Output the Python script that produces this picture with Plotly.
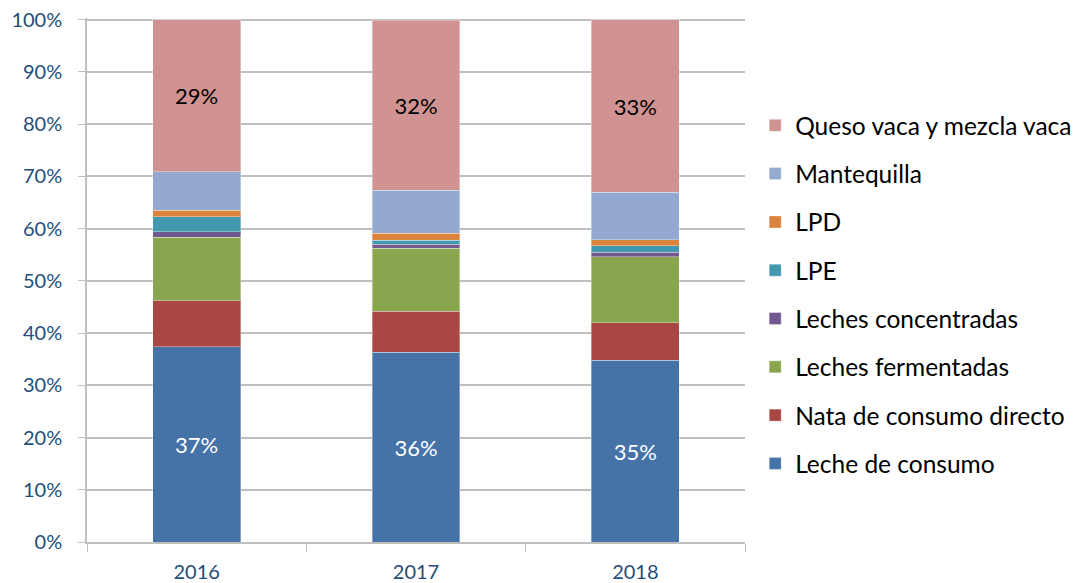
import plotly.graph_objects as go

years = ["2016", "2017", "2018"]
series_names = [
    "Leche de consumo",
    "Nata de consumo directo",
    "Leches fermentadas",
    "Leches concentradas",
    "LPE",
    "LPD",
    "Mantequilla",
    "Queso vaca y mezcla vaca",
]
leche = [37.4, 36.3, 34.8]
nata = [8.8, 7.9, 7.2]
fermentadas = [12.1, 12.0, 12.6]
concentradas = [1.1, 0.8, 0.9]
lpe = [2.9, 0.8, 1.2]
lpd = [1.2, 1.3, 1.2]
mantequilla = [7.4, 8.2, 9.0]
queso = [29.1, 32.6, 33.1]
leche_labels = ["37%", "36%", "35%"]
queso_labels = ["29%", "32%", "33%"]

values = [leche, nata, fermentadas, concentradas, lpe, lpd, mantequilla, queso]
colors = ["#4572A7", "#AA4643", "#89A54E", "#71588F", "#4198AF", "#DB843D", "#93A9CF", "#D19392"]

FONT = "Lato"
fig = go.Figure()
n = len(series_names)
for i, (name, vals, col) in enumerate(zip(series_names, values, colors)):
    kw = {}
    if i == 0:
        kw = dict(text=leche_labels, textposition="inside", insidetextanchor="middle",
                  texttemplate="%{text}",
                  textfont=dict(color="white", size=22, family=FONT))
    elif i == n - 1:
        kw = dict(text=queso_labels, textposition="inside", insidetextanchor="middle",
                  texttemplate="%{text}",
                  textfont=dict(color="black", size=22, family=FONT))
    fig.add_trace(go.Bar(
        x=years, y=[v / 100 for v in vals], name=name, legendgroup=name,
        legendrank=n - i,
        marker=dict(color=col, line=dict(color="rgba(255,255,255,0.35)", width=1)),
        hoverinfo="skip", **kw
    ))

fig.update_layout(
    barmode="stack",
    bargap=0.6,
    width=1072, height=575,
    margin=dict(l=79, r=335, t=10, b=41),
    paper_bgcolor="white", plot_bgcolor="white",
    font=dict(family=FONT, size=20, color="#1F4E79"),
    legend=dict(
        xref="container", x=0.697, y=0.838, xanchor="left", yanchor="top",
        traceorder="grouped", tracegroupgap=13.45,
        font=dict(size=24.5, color="black", family=FONT),
    ),
    uniformtext=dict(mode=False),
)
fig.update_yaxes(
    range=[0, 1.003], tickformat=".0%", tickvals=[i / 10 for i in range(11)],
    automargin=False, ticklabeloverflow="allow",
    showgrid=True, gridcolor="#BFBFBF", gridwidth=1.5,
    showline=True, linecolor="#BFBFBF", linewidth=1.5,
    ticks="outside", ticklen=7, tickcolor="#BFBFBF", ticklabelstandoff=12,
    tickfont=dict(size=20, color="#1F4E79", family=FONT), zeroline=False,
)
fig.update_xaxes(
    automargin=False,
    showline=True, linecolor="#BFBFBF", linewidth=1.5,
    ticks="outside", ticklen=8, tickcolor="#BFBFBF", tickson="boundaries",
    ticklabelstandoff=11,
    tickfont=dict(size=20, color="#1F4E79", family=FONT),
)
fig.write_html("out.html")
